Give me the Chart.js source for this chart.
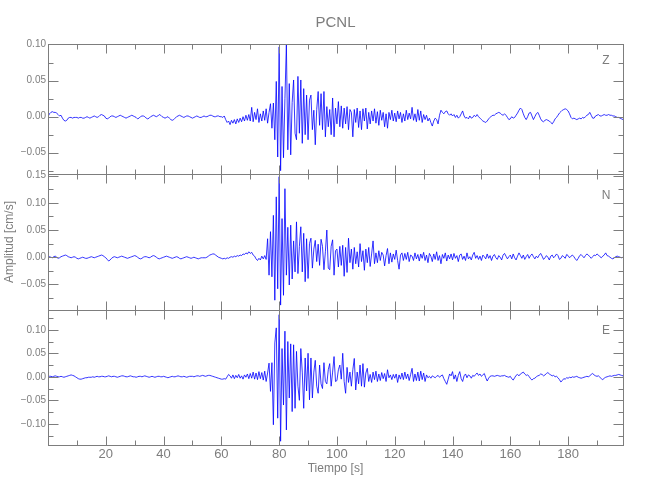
<!DOCTYPE html>
<html>
<head>
<meta charset="utf-8">
<script src="https://cdn.jsdelivr.net/npm/chart.js@4/dist/chart.umd.min.js"></script>
<style>
  body { margin: 0; background: #fff; }
  #wrap { width: 650px; height: 500px; }
</style>
</head>
<body>
<div id="wrap"><canvas id="seis" width="650" height="500"></canvas></div>
<script>
/* DATA: velocity traces sampled every 0.5 s from t = 0 s */
const t0 = 0;
const dt = 0.5;

const traceZ = [
  0.000, 0.004, 0.006, 0.007, 0.006, 0.006, 0.005, 0.003, 0.001, 0.002, -0.002, -0.005, -0.006, -0.005, -0.002, -0.001, -0.001, -0.002, -0.001, -0.001,
  -0.001, -0.002, -0.001, -0.001, -0.002, -0.002, -0.001, 0.000, -0.001, -0.002, -0.001, 0.000, 0.001, 0.000, -0.001, 0.000, 0.002, 0.003, 0.002, 0.001,
  -0.002, -0.003, -0.002, 0.000, 0.001, 0.001, 0.000, -0.001, 0.000, 0.001, 0.002, 0.001, 0.000, -0.001, -0.002, -0.001, 0.000, 0.001, 0.002, 0.001,
  0.000, -0.001, -0.003, -0.002, 0.000, 0.001, 0.001, 0.000, -0.002, -0.003, -0.002, 0.000, 0.001, 0.002, 0.001, 0.000, 0.001, 0.003, 0.002, 0.000,
  -0.001, -0.002, -0.001, 0.000, -0.002, -0.004, -0.005, -0.004, -0.002, 0.000, 0.001, 0.002, 0.001, 0.000, -0.001, 0.000, 0.001, 0.001, 0.000, -0.001,
  -0.002, -0.001, 0.000, 0.001, 0.000, -0.001, -0.001, 0.000, 0.001, 0.000, 0.000, 0.001, 0.002, 0.002, 0.001, 0.000, 0.000, 0.001, 0.001, 0.000,
  0.000, -0.001, 0.001, -0.004, -0.008, -0.006, -0.011, -0.005, -0.009, -0.004, -0.010, -0.003, -0.008, -0.002, -0.007, 0.000, -0.006, 0.002, -0.005, 0.003,
  -0.006, 0.013, -0.007, 0.006, -0.004, 0.011, -0.008, 0.004, -0.006, 0.008, -0.005, 0.011, -0.009, 0.006, 0.018, -0.016, 0.019, -0.032, 0.049, -0.056,
  0.097, -0.075, 0.042, -0.057, 0.025, 0.100, -0.046, 0.046, -0.053, 0.020, 0.051, -0.023, -0.032, 0.056, -0.023, 0.051, -0.037, 0.039, -0.025, 0.030,
  -0.032, 0.023, 0.030, -0.018, 0.009, -0.039, 0.010, 0.035, -0.012, 0.032, -0.018, 0.035, -0.028, 0.014, -0.014, 0.010, -0.025, 0.026, -0.028, 0.012,
  -0.010, 0.021, -0.014, 0.015, -0.016, 0.012, -0.010, 0.014, -0.018, 0.010, 0.006, -0.028, 0.010, -0.008, 0.012, -0.015, 0.008, -0.018, 0.011, -0.006,
  0.012, -0.017, 0.006, -0.010, 0.008, -0.006, 0.011, -0.009, 0.007, -0.012, 0.009, -0.005, 0.006, -0.014, 0.004, -0.016, 0.006, -0.004, 0.009, -0.006,
  0.005, -0.007, 0.008, -0.003, 0.006, -0.008, 0.004, -0.006, 0.009, -0.004, 0.005, -0.003, 0.013, -0.005, 0.004, -0.007, 0.010, -0.005, 0.008, -0.008,
  0.003, -0.004, 0.002, -0.006, -0.002, -0.008, -0.013, -0.006, -0.002, -0.004, -0.010, 0.002, 0.009, 0.006, 0.004, 0.007, 0.008, 0.004, 0.002, 0.004,
  0.001, 0.003, -0.001, 0.002, -0.002, 0.000, 0.004, 0.008, 0.001, -0.002, -0.001, -0.003, 0.001, -0.002, -0.001, 0.002, 0.000, 0.003, 0.000, -0.002,
  -0.004, -0.006, -0.007, -0.008, -0.006, -0.003, -0.001, 0.001, 0.002, 0.002, 0.004, 0.005, 0.006, 0.005, 0.003, 0.002, 0.004, 0.002, -0.001, -0.004,
  -0.003, 0.000, -0.002, -0.001, 0.002, 0.005, 0.009, 0.012, 0.010, 0.004, -0.001, -0.004, 0.000, 0.005, 0.006, 0.001, -0.004, 0.000, 0.004, 0.006,
  0.002, -0.003, -0.006, -0.007, -0.005, -0.004, -0.005, -0.006, -0.008, -0.010, -0.007, -0.003, -0.001, 0.002, 0.005, 0.007, 0.009, 0.010, 0.011, 0.010,
  0.008, 0.004, -0.001, -0.003, -0.002, -0.003, -0.004, -0.003, -0.002, -0.003, -0.001, -0.002, 0.000, 0.002, 0.003, 0.006, 0.002, -0.002, -0.002, 0.001,
  0.002, 0.003, 0.001, 0.001, 0.002, 0.003, 0.002, 0.002, 0.003, 0.002, 0.002, 0.001, 0.001, 0.000, -0.001, -0.001, -0.002, -0.003, -0.004
];

const traceN = [
  0.000, 0.001, 0.000, -0.001, 0.001, 0.002, 0.000, -0.002, -0.001, 0.001, 0.002, 0.003, 0.004, 0.003, 0.001, 0.000, -0.001, 0.000, 0.001, 0.000,
  -0.002, -0.003, -0.002, -0.001, 0.000, -0.001, -0.002, -0.002, -0.001, 0.000, 0.001, 0.000, -0.001, 0.000, 0.001, 0.002, 0.003, 0.004, 0.003, 0.001,
  -0.001, -0.004, -0.007, -0.005, -0.002, 0.000, 0.001, 0.000, -0.001, 0.000, 0.001, 0.002, 0.001, 0.000, -0.001, -0.002, -0.001, 0.000, 0.001, 0.002,
  0.003, 0.002, 0.000, -0.002, -0.003, -0.002, 0.000, 0.001, 0.001, 0.000, -0.001, 0.000, 0.002, 0.003, 0.002, 0.000, -0.002, -0.003, -0.002, -0.001,
  0.000, 0.001, 0.002, 0.001, 0.000, -0.001, -0.002, -0.001, 0.000, 0.001, 0.000, -0.002, -0.003, -0.002, -0.001, 0.000, 0.001, 0.000, -0.001, -0.002,
  -0.001, 0.000, -0.001, -0.002, -0.003, -0.002, -0.001, -0.001, -0.001, -0.001, 0.000, 0.002, 0.004, 0.005, 0.006, 0.006, 0.004, 0.002, 0.000, -0.001,
  -0.002, -0.003, -0.002, -0.003, -0.001, -0.002, 0.000, 0.001, 0.000, 0.002, 0.001, 0.003, 0.002, 0.004, 0.003, 0.006, 0.005, 0.008, 0.006, 0.010,
  0.007, 0.009, 0.004, 0.002, -0.003, -0.006, -0.002, -0.005, 0.002, -0.003, 0.003, -0.004, 0.034, -0.033, 0.047, -0.036, 0.077, -0.079, 0.111, -0.058,
  0.148, -0.088, 0.071, -0.070, 0.126, -0.033, 0.055, -0.051, 0.059, -0.040, 0.030, -0.027, 0.065, -0.030, 0.020, 0.056, -0.027, 0.044, -0.045, 0.034,
  -0.039, 0.025, 0.035, -0.020, 0.015, 0.031, -0.008, 0.024, -0.015, 0.033, 0.020, -0.023, 0.010, 0.050, -0.020, -0.023, 0.020, 0.032, -0.033, 0.012,
  0.015, -0.018, 0.020, -0.015, 0.022, -0.035, 0.018, -0.028, 0.035, -0.010, 0.015, -0.022, 0.018, -0.012, 0.010, -0.018, 0.025, -0.008, 0.012, -0.024,
  0.015, -0.010, 0.018, -0.017, 0.006, 0.030, -0.012, 0.008, -0.010, 0.012, -0.006, 0.009, 0.004, -0.016, 0.003, 0.016, -0.012, 0.008, -0.009, 0.006,
  -0.004, 0.013, -0.006, -0.022, 0.004, 0.008, -0.006, 0.007, -0.004, 0.009, -0.008, 0.004, 0.002, -0.006, 0.008, -0.003, 0.005, -0.007, 0.006, -0.002,
  0.009, -0.006, 0.004, -0.010, 0.007, 0.002, -0.008, 0.006, -0.004, 0.010, -0.006, 0.003, -0.012, 0.005, -0.002, 0.008, -0.007, 0.004, -0.003, 0.006,
  -0.005, 0.007, -0.002, 0.003, -0.008, 0.004, 0.006, -0.004, 0.002, -0.006, 0.008, -0.003, 0.001, -0.005, 0.004, 0.009, -0.002, 0.003, -0.004, 0.002,
  -0.006, 0.004, 0.001, -0.003, 0.006, -0.002, 0.003, -0.006, 0.002, 0.005, -0.001, -0.004, 0.003, 0.000, -0.005, 0.004, 0.007, 0.002, -0.003, 0.001,
  0.004, -0.003, 0.006, -0.001, -0.005, 0.002, 0.008, 0.003, -0.002, 0.004, -0.004, 0.001, 0.005, -0.002, 0.003, 0.006, 0.001, -0.003, 0.002, -0.001,
  0.004, 0.007, 0.002, -0.004, -0.001, 0.003, 0.000, -0.005, 0.002, 0.004, -0.001, 0.002, 0.006, 0.003, -0.004, -0.002, 0.003, 0.001, -0.002, 0.005,
  0.003, -0.001, 0.002, 0.004, 0.001, -0.003, -0.006, -0.002, 0.003, 0.005, 0.002, -0.001, 0.003, 0.006, 0.004, 0.001, -0.002, 0.001, 0.004, 0.003,
  0.006, 0.004, 0.001, -0.001, 0.002, 0.004, 0.008, 0.003, 0.002, 0.000, -0.002, -0.003, -0.001, 0.001, 0.002, 0.001, 0.000, -0.001, 0.000
];

const traceE = [
  0.000, 0.001, 0.001, 0.000, 0.001, 0.002, 0.001, 0.000, 0.000, 0.001, 0.000, -0.001, 0.000, 0.001, 0.002, 0.003, 0.004, 0.003, 0.002, 0.000,
  -0.002, -0.004, -0.005, -0.005, -0.004, -0.003, -0.002, -0.002, -0.001, -0.001, -0.001, 0.000, -0.001, 0.000, 0.001, 0.000, 0.000, 0.001, 0.001, 0.000,
  0.000, 0.001, 0.002, 0.001, 0.000, 0.001, 0.001, 0.000, -0.001, 0.000, 0.001, 0.002, 0.002, 0.001, 0.000, 0.000, 0.001, 0.002, 0.001, 0.000,
  0.000, -0.001, 0.000, 0.001, 0.001, 0.000, 0.001, 0.002, 0.001, 0.000, -0.001, 0.000, 0.001, 0.000, -0.001, 0.000, 0.001, 0.001, 0.000, 0.000,
  0.001, 0.000, -0.001, -0.002, -0.001, 0.000, 0.001, 0.000, 0.000, 0.001, 0.002, 0.001, 0.000, 0.000, 0.001, 0.000, -0.001, 0.000, 0.001, 0.001,
  0.001, 0.000, 0.001, 0.002, 0.002, 0.001, 0.002, 0.003, 0.002, 0.001, 0.002, 0.003, 0.003, 0.002, 0.001, 0.000, -0.001, -0.002, -0.003, -0.004,
  -0.005, -0.005, -0.004, -0.005, 0.000, 0.005, 0.002, -0.003, 0.004, -0.004, 0.003, -0.002, 0.005, -0.003, 0.002, -0.005, 0.004, -0.001, 0.006, -0.004,
  0.007, -0.003, 0.010, -0.005, 0.008, -0.006, 0.011, -0.004, 0.009, -0.007, 0.012, -0.010, 0.008, 0.029, -0.031, 0.030, -0.102, 0.072, 0.104, -0.088,
  0.132, -0.137, 0.060, -0.060, 0.097, -0.113, 0.075, -0.045, 0.070, -0.074, 0.068, -0.067, 0.054, -0.020, -0.050, 0.060, 0.010, -0.067, 0.040, -0.030,
  0.050, -0.049, 0.040, -0.045, 0.010, 0.035, -0.020, -0.035, 0.025, -0.015, -0.025, 0.030, -0.010, -0.015, 0.015, 0.028, -0.020, 0.010, 0.043, -0.010,
  -0.008, 0.015, 0.025, -0.005, 0.050, -0.010, -0.035, 0.020, -0.012, 0.010, -0.020, 0.015, 0.039, -0.028, 0.010, -0.015, 0.025, -0.020, 0.028, -0.022,
  0.008, 0.018, -0.010, 0.005, -0.012, 0.010, -0.006, 0.012, -0.010, 0.006, -0.008, 0.009, -0.004, 0.007, -0.010, 0.015, -0.002, 0.004, -0.006, 0.005,
  -0.003, 0.006, -0.012, 0.004, -0.005, 0.008, -0.006, 0.010, -0.004, 0.006, -0.008, 0.005, 0.018, -0.010, 0.006, -0.008, 0.010, -0.009, 0.012, -0.006,
  0.008, -0.010, 0.004, -0.002, 0.001, -0.003, 0.002, 0.000, -0.002, 0.001, 0.003, -0.001, 0.002, 0.004, -0.004, -0.010, -0.016, -0.005, 0.006, 0.002,
  0.011, -0.005, 0.004, -0.010, 0.003, 0.011, -0.004, -0.010, 0.002, 0.006, -0.002, 0.004, 0.002, -0.003, 0.003, 0.001, 0.005, 0.008, 0.003, 0.006,
  0.001, 0.004, 0.007, -0.002, -0.009, -0.003, 0.001, 0.002, 0.002, 0.001, 0.002, 0.003, 0.002, 0.001, 0.002, 0.002, 0.003, 0.001, 0.000, -0.001,
  0.001, -0.004, -0.007, -0.002, 0.003, 0.005, 0.002, 0.006, 0.008, 0.010, 0.006, 0.003, 0.004, 0.001, -0.004, -0.007, -0.004, -0.003, 0.000, 0.002,
  0.003, 0.006, 0.005, 0.002, 0.004, 0.007, 0.009, 0.006, 0.004, 0.002, 0.003, 0.000, 0.001, -0.002, -0.006, -0.011, -0.008, -0.004, -0.005, -0.002,
  -0.003, -0.001, -0.002, 0.000, -0.001, 0.000, 0.001, -0.001, -0.002, -0.003, -0.002, -0.001, 0.000, 0.001, 0.000, 0.002, 0.005, 0.007, 0.004, 0.002,
  0.001, 0.002, -0.001, -0.004, -0.006, -0.003, -0.001, 0.000, 0.001, 0.002, 0.001, 0.002, 0.003, 0.003, 0.004, 0.005, 0.004, 0.003, 0.002
];

/* AXES */
const timeRange = [0, 199];
const timeTicks = [20, 40, 60, 80, 100, 120, 140, 160, 180];
const rangeZ = [-0.0796, 0.101];
const rangeN = [-0.097, 0.153];
const rangeE = [-0.145, 0.142];
const ticksZ = [-0.05, 0.00, 0.05, 0.10];
const ticksN = [-0.05, 0.00, 0.05, 0.10, 0.15];
const ticksE = [-0.10, -0.05, 0.00, 0.05, 0.10];
const yMinorStep = 0.025;
const xMinorStep = 10;

/* STYLE */
const FONT = "'Liberation Sans', Arial, sans-serif";
const GREY = "#7d7d7d";
const BLUE = "#0000ff";

const panels = [
  { id: "yZ", name: "Z", values: traceZ, range: rangeZ, ticks: ticksZ, height: 130, labelDy: 17 },
  { id: "yN", name: "N", values: traceN, range: rangeN, ticks: ticksN, height: 136, labelDy: 22 },
  { id: "yE", name: "E", values: traceE, range: rangeE, ticks: ticksE, height: 135, labelDy: 21 }
];

function toPoints(vals) {
  return vals.map((v, i) => ({ x: t0 + i * dt, y: v }));
}

function fmtAmp(v) {
  const s = Math.abs(v) < 1e-9 ? "0.00" : v.toFixed(2);
  return s.replace("-", "\u2212");
}

/* FRAME + TICK MARKS (all four sides of every panel) */
const frameTicks = {
  id: "frameTicks",
  afterDatasetsDraw(chart) {
    const { ctx, chartArea } = chart;
    const xs = chart.scales.x;
    const L = Math.round(chartArea.left) + 0.5;
    const R = Math.round(chartArea.right) + 0.5;

    ctx.save();
    ctx.strokeStyle = GREY;
    ctx.lineWidth = 1;

    panels.forEach(p => {
      const ys = chart.scales[p.id];
      const T = Math.round(ys.top) + 0.5;
      const B = Math.round(ys.bottom) + 0.5;

      ctx.strokeRect(L, T, R - L, B - T);
      ctx.beginPath();

      for (let k = Math.ceil(ys.min / yMinorStep - 1e-6); k * yMinorStep <= ys.max + 1e-9; k++) {
        const y = Math.round(ys.getPixelForValue(k * yMinorStep)) + 0.5;
        if (y <= T + 1 || y >= B - 1) continue;
        const len = k % 2 === 0 ? 10 : 5;
        ctx.moveTo(L, y); ctx.lineTo(L + len, y);
        ctx.moveTo(R, y); ctx.lineTo(R - len, y);
      }

      for (let t = xMinorStep; t < xs.max; t += xMinorStep) {
        const x = Math.round(xs.getPixelForValue(t)) + 0.5;
        const len = t % 20 === 0 ? 9 : 5;
        ctx.moveTo(x, T); ctx.lineTo(x, T + len);
        ctx.moveTo(x, B); ctx.lineTo(x, B - len);
      }
      ctx.stroke();

      ctx.fillStyle = GREY;
      ctx.font = "12px " + FONT;
      ctx.textAlign = "center";
      ctx.textBaseline = "middle";
      ctx.fillText(p.name, chartArea.right - 17, ys.top + p.labelDy);
    });
    ctx.restore();
  }
};

/* SCALES */
function yScale(p, order) {
  return {
    type: "linear",
    position: "left",
    stack: "traces",
    stackWeight: p.height,
    weight: order,
    min: p.range[0],
    max: p.range[1],
    afterBuildTicks: s => { s.ticks = p.ticks.map(v => ({ value: v })); },
    afterFit: s => { s.width = 48; },
    ticks: {
      autoSkip: false,
      padding: 2,
      color: GREY,
      font: { family: FONT, size: 10 },
      callback: v => fmtAmp(v)
    },
    grid: { display: false, drawTicks: false },
    border: { display: false },
    title: {
      display: p.name === "N",
      text: "Amplitud [cm/s]",
      color: GREY,
      font: { family: FONT, size: 12 },
      padding: { top: 2, bottom: 0 }
    }
  };
}

const scales = {
  x: {
    type: "linear",
    position: "bottom",
    min: timeRange[0],
    max: timeRange[1],
    afterBuildTicks: s => { s.ticks = timeTicks.map(v => ({ value: v })); },
    afterFit: s => { s.height = 55; },
    ticks: {
      autoSkip: false,
      maxRotation: 0,
      padding: 2,
      color: GREY,
      font: { family: FONT, size: 13 }
    },
    grid: { display: false, drawTicks: false },
    border: { display: false },
    title: {
      display: true,
      text: "Tiempo [s]",
      color: GREY,
      font: { family: FONT, size: 12 },
      padding: { top: 0, bottom: 24 }
    }
  }
};
// bottom panel first so the Z panel ends up on top of the stack
scales.yE = yScale(panels[2], 1);
scales.yN = yScale(panels[1], 2);
scales.yZ = yScale(panels[0], 3);

/* CHART */
new Chart(document.getElementById("seis"), {
  type: "line",
  data: {
    datasets: panels.map(p => ({
      label: p.name,
      yAxisID: p.id,
      xAxisID: "x",
      data: toPoints(p.values),
      borderColor: BLUE,
      borderWidth: 0.8,
      pointRadius: 0,
      tension: 0,
      fill: false
    }))
  },
  options: {
    responsive: false,
    animation: false,
    devicePixelRatio: 1,
    layout: { padding: { left: 0, right: 27, top: 0, bottom: 0 } },
    plugins: {
      legend: { display: false },
      tooltip: { enabled: false },
      title: {
        display: true,
        text: "PCNL",
        fullSize: false,
        color: GREY,
        font: { family: FONT, size: 15, weight: "normal" },
        padding: { top: 14, bottom: 12 }
      }
    },
    scales
  },
  plugins: [frameTicks]
});
</script>
</body>
</html>
